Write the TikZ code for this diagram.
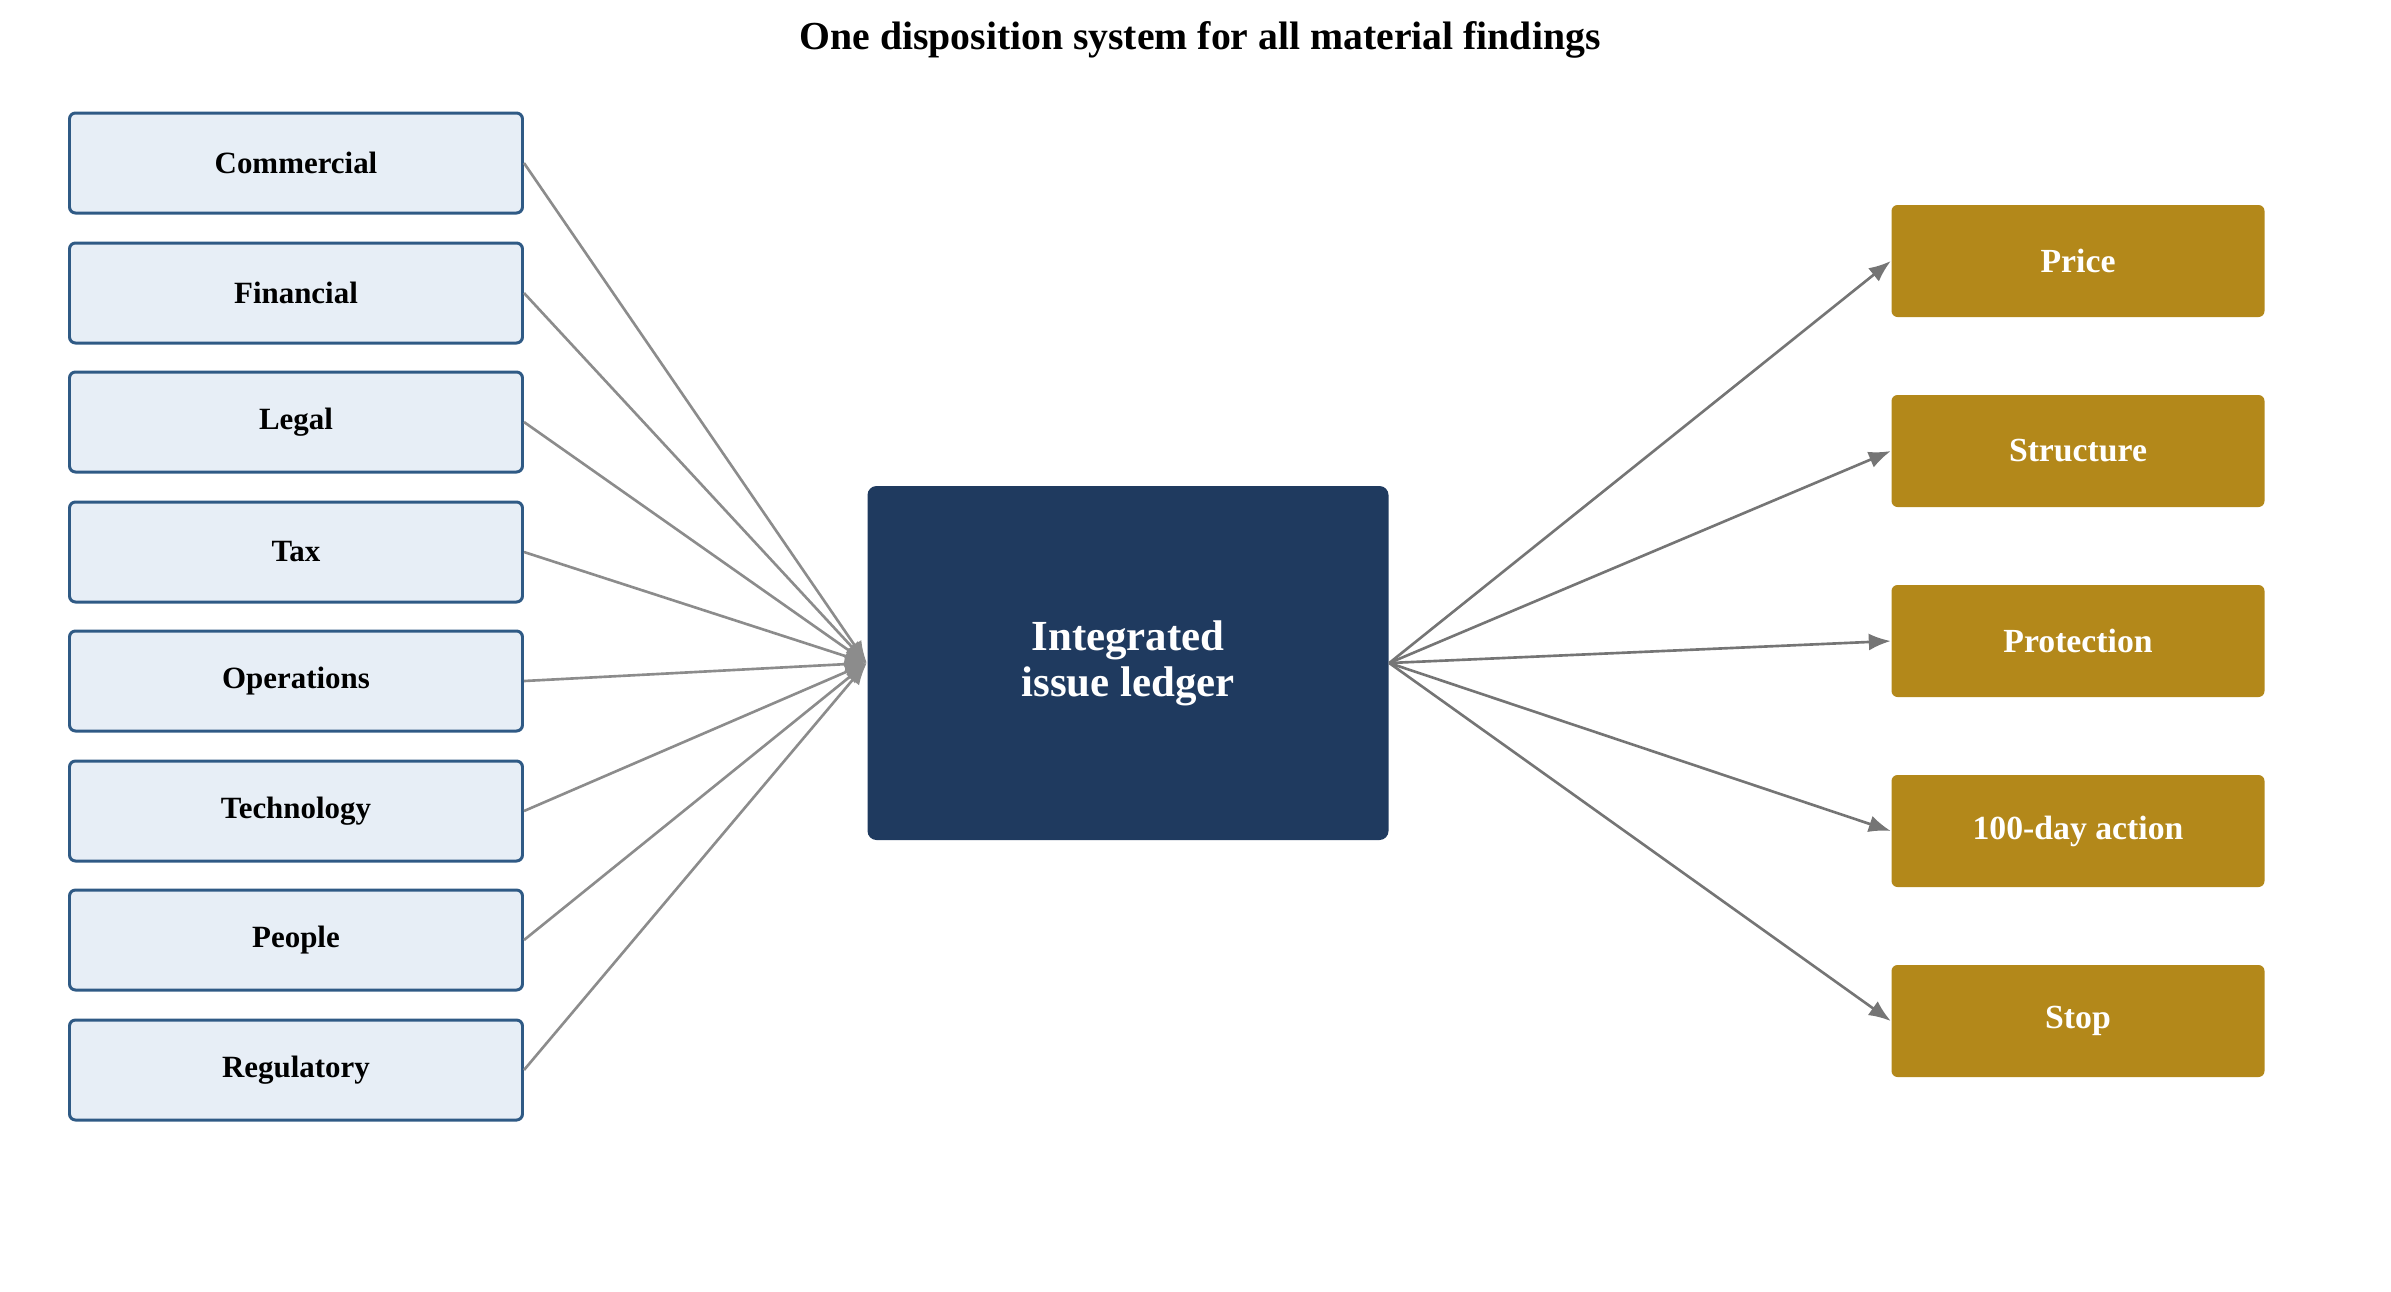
\documentclass[tikz,border=0pt]{standalone}
\usepackage{fontspec}
\setmainfont{Liberation Serif}
\usetikzlibrary{arrows.meta}
\definecolor{areafill}{HTML}{E7EEF6}
\definecolor{areaedge}{HTML}{2F5A85}
\definecolor{ledgerblue}{HTML}{1F3A5F}
\definecolor{gold}{HTML}{B3881A}
\tikzset{
  area/.style={draw=areaedge, fill=areafill, line width=0.85pt, rounded corners=0.6mm,
    minimum width=45.3mm, minimum height=10mm, inner sep=0pt,
    font=\fontsize{8.8}{10}\selectfont\bfseries},
  outcome/.style={fill=gold, rounded corners=0.6mm, minimum width=37.3mm,
    minimum height=11.2mm, inner sep=0pt, text=white,
    font=\fontsize{9.6}{11}\selectfont\bfseries},
  feed/.style={draw=black!45, line width=0.75pt, -{Latex[length=2.2mm,width=1.7mm]}},
  route/.style={draw=black!54, line width=0.75pt, -{Latex[length=2.2mm,width=1.7mm]}}
}
\begin{document}
\begin{tikzpicture}[x=0.1mm,y=-0.1mm]
\useasboundingbox (0,0) rectangle (2391,1291);
\node[font=\fontsize{11.3}{13}\selectfont\bfseries] (title) at (1200,40) {One disposition system for all material findings};
% where the findings come from
\node[area] (com) at (296,163) {Commercial};
\node[area] (fin) at (296,293) {Financial};
\node[area] (leg) at (296,422) {Legal};
\node[area] (tax) at (296,552) {Tax};
\node[area] (ops) at (296,681) {Operations};
\node[area] (tec) at (296,811) {Technology};
\node[area] (peo) at (296,940) {People};
\node[area] (reg) at (296,1070) {Regulatory};
% the ledger
\node[fill=ledgerblue, rounded corners=0.9mm, minimum width=52.1mm, minimum height=35.4mm,
  text=white, align=center, font=\fontsize{12.2}{13}\selectfont\bfseries] (ledger) at (1128,663) {Integrated\\issue ledger};
% dispositions
\node[outcome] (pri) at (2078,261) {Price};
\node[outcome] (str) at (2078,451) {Structure};
\node[outcome] (pro) at (2078,641) {Protection};
\node[outcome] (act) at (2078,831) {100-day action};
\node[outcome] (sto) at (2078,1021) {Stop};
\path[feed] (com.east) -- (ledger.west);
\path[feed] (fin.east) -- (ledger.west);
\path[feed] (leg.east) -- (ledger.west);
\path[feed] (tax.east) -- (ledger.west);
\path[feed] (ops.east) -- (ledger.west);
\path[feed] (tec.east) -- (ledger.west);
\path[feed] (peo.east) -- (ledger.west);
\path[feed] (reg.east) -- (ledger.west);
\path[route] (ledger.east) -- (pri.west);
\path[route] (ledger.east) -- (str.west);
\path[route] (ledger.east) -- (pro.west);
\path[route] (ledger.east) -- (act.west);
\path[route] (ledger.east) -- (sto.west);
\end{tikzpicture}
\end{document}
